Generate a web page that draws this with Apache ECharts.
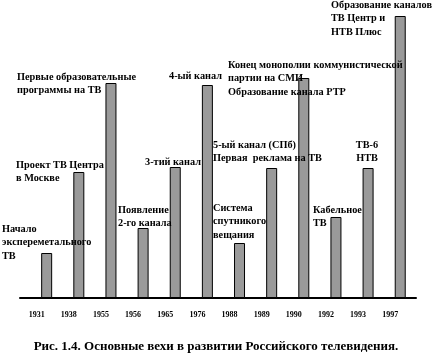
<!DOCTYPE html>
<html><head><meta charset="utf-8">
<script src="https://cdn.jsdelivr.net/npm/echarts@6/dist/echarts.min.js"></script>
<style>html,body{margin:0;padding:0;background:#fff}#c{width:432px;height:357px}</style>
</head><body><div id="c"></div>
<script>
const years = ['1931','1938','1955','1956','1965','1976','1988','1989','1990','1992','1993','1997'];
const heights = [45, 126, 215, 70, 131, 213, 55, 130, 220, 81, 130, 282];
const notes = [
  ['Начало','экспереметального','ТВ'],
  ['Проект ТВ Центра','в Москве'],
  ['Первые образовательные','программы на ТВ'],
  ['Появление','2-го канала'],
  ['3-тий канал'],
  ['4-ый канал'],
  ['Система','спутникого','вещания'],
  ['5-ый канал (СПб)','Первая  реклама на ТВ'],
  ['Конец монополии коммунистической','партии на СМИ','Образование канала РТР'],
  ['Кабельное','ТВ'],
  ['ТВ-6','НТВ'],
  ['Образование каналов','ТВ Центр и','НТВ Плюс']
];
const caption = 'Рис. 1.4. Основные вехи в развитии Российского телевидения.';

// layout of annotation blocks: [x, y of first line centre, align]
const noteLayout = [
  [2,229,'left'],[16,165,'left'],[17,77,'left'],[118,210,'left'],[145,162,'left'],
  [169,76,'left'],[213,208,'left'],[213,145,'left'],[228,65,'left'],[313,210,'left'],
  [367,145,'center'],[331,5,'left']
];
const FONT = '"Liberation Serif","Times New Roman",serif';
const lineH = 13.8;

const graphics = [];
notes.forEach((lines, i) => {
  const [x, y, al] = noteLayout[i];
  lines.forEach((t, j) => {
    graphics.push({type:'text', x:x, y:y + j*lineH, z:10,
      style:{text:t, fill:'#000', font:'bold 10.3px ' + FONT, textAlign:al, textVerticalAlign:'middle'}});
  });
});
graphics.push({type:'text', x:216, y:347, style:{text:caption, fill:'#000', font:'bold 13px ' + FONT, textAlign:'center', textVerticalAlign:'middle'}});

const chart = echarts.init(document.getElementById('c'), null, {renderer:'canvas'});
chart.setOption({
  animation:false,
  backgroundColor:'#fff',
  grid:[
    {left:30.6, right:15.7, top:8, bottom:59},
    {left:20, right:16, top:8, bottom:59}
  ],
  xAxis:[
    {type:'category', gridIndex:0, data:years,
     axisLine:{show:false}, axisTick:{show:false},
     axisLabel:{color:'#000', fontFamily:FONT, fontWeight:'bold', fontSize:8, margin:13, padding:[0,20,0,0]}},
    {type:'value', gridIndex:1, min:0, max:1, axisLine:{show:true, onZero:false, lineStyle:{color:'#000', width:2}},
     axisTick:{show:false}, axisLabel:{show:false}, splitLine:{show:false}}
  ],
  yAxis:[
    {type:'value', gridIndex:0, min:0, max:290, show:false},
    {type:'value', gridIndex:1, min:0, max:1, show:false}
  ],
  series:[{
    type:'bar', xAxisIndex:0, yAxisIndex:0, data:heights, barWidth:11,
    itemStyle:{color:'#9a9a9a', borderColor:'#000', borderWidth:1}
  }],
  graphic:graphics
});
</script></body></html>
